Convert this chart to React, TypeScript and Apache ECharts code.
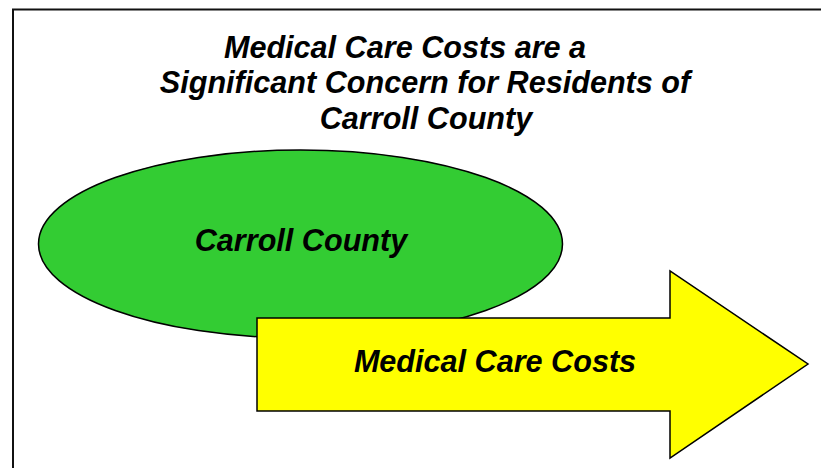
import React, { useEffect, useRef } from "react";
import * as echarts from "echarts";

const titleLines = [
  "Medical Care Costs are a",
  "Significant Concern for Residents of",
  "Carroll County",
];
const ellipseLabel = "Carroll County";
const arrowLabel = "Medical Care Costs";

const W = 821;
const H = 468;
const FONT = "'Liberation Sans', Arial, sans-serif";

export default function App() {
  const ref = useRef<HTMLDivElement>(null);
  useEffect(() => {
    if (!ref.current) return;
    const chart = echarts.init(ref.current, null, { renderer: "svg", width: W, height: H });
    const titlePos = [
      [405, 47],
      [425, 82],
      [426, 118],
    ];
    const textStyle = (size: number) => ({
      fill: "#000",
      fontFamily: FONT,
      fontSize: size,
      fontWeight: "bold",
      fontStyle: "italic",
      align: "center",
      verticalAlign: "middle",
    });
    chart.setOption({
      animation: false,
      backgroundColor: "#ffffff",
      graphic: [
        {
          type: "polyline",
          shape: { points: [[13, H + 5], [13, 9.5], [W + 5, 9.5]] },
          style: { stroke: "#111", lineWidth: 2, fill: null },
        },
        {
          type: "ellipse",
          shape: { cx: 300.5, cy: 244, rx: 262, ry: 94 },
          style: { fill: "#33CC33", stroke: "#000", lineWidth: 1.5 },
        },
        {
          type: "polygon",
          shape: {
            points: [
              [257, 318],
              [670, 318],
              [670, 271],
              [808, 364],
              [670, 458],
              [670, 411],
              [257, 411],
            ],
          },
          style: { fill: "#FFFF00", stroke: "#000", lineWidth: 1.5 },
        },
        ...titleLines.map((t, i) => ({
          type: "text",
          x: titlePos[i][0],
          y: titlePos[i][1],
          style: { text: t, ...textStyle(30.6) },
        })),
        {
          type: "text",
          x: 301,
          y: 240,
          style: { text: ellipseLabel, ...textStyle(30.6) },
        },
        {
          type: "text",
          x: 495,
          y: 361,
          style: { text: arrowLabel, ...textStyle(30.6) },
        },
      ],
    });
    return () => chart.dispose();
  }, []);
  return (
    <div
      ref={ref}
      style={{ position: "absolute", left: 0, top: 0, width: W, height: H }}
    />
  );
}
